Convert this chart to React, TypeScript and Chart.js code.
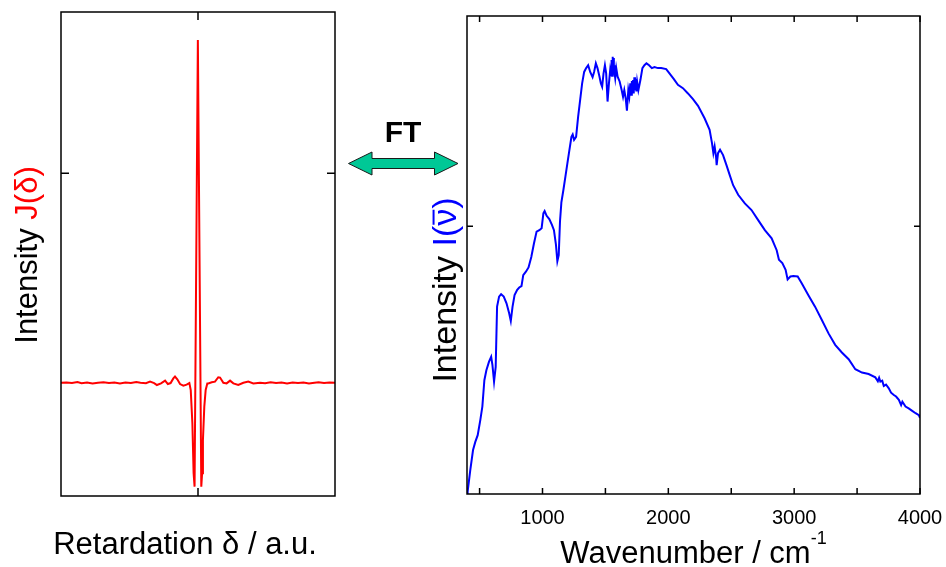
import React, { useEffect, useRef } from "react";
import { Chart, registerables } from "chart.js";

Chart.register(...registerables);

const FONT = '"Liberation Sans", Arial, Helvetica, sans-serif';

// ---------- Interferogram (left) ----------
const retardation = [
  -1.0, -0.96, -0.92, -0.88, -0.85, -0.81, -0.77, -0.73, -0.69, -0.65, -0.61, -0.57, -0.53, -0.49, -0.45,
  -0.42, -0.38, -0.35, -0.32, -0.3, -0.27, -0.24, -0.22, -0.2, -0.18, -0.168, -0.151, -0.131, -0.107, -0.083,
  -0.063, -0.053, -0.041, -0.032, -0.025, -0.001, 0.024, 0.03, 0.036, 0.046, 0.056, 0.068, 0.0755, 0.1, 0.124,
  0.148, 0.161, 0.185, 0.209, 0.234, 0.258, 0.294, 0.331, 0.367, 0.404, 0.453, 0.49, 0.53, 0.57, 0.61, 0.65,
  0.69, 0.73, 0.77, 0.81, 0.85, 0.88, 0.92, 0.96, 1.0,
];
const interferogram = [
  0.702, 0.704, 0.7, 0.706, 0.699, 0.703, 0.697, 0.702, 0.705, 0.7, 0.704, 0.698, 0.703, 0.7, 0.706,
  0.702, 0.699, 0.709, 0.7, 0.688, 0.698, 0.715, 0.694, 0.7, 0.729, 0.74, 0.723, 0.694, 0.684, 0.69,
  0.7, 0.657, 0.45, 0.141, 0.058, 2.826, 0.058, 0.141, 0.347, 0.554, 0.657, 0.698, 0.698, 0.705, 0.709,
  0.736, 0.734, 0.702, 0.698, 0.715, 0.698, 0.688, 0.702, 0.709, 0.698, 0.702, 0.699, 0.705, 0.7, 0.703,
  0.698, 0.704, 0.7, 0.703, 0.697, 0.702, 0.705, 0.7, 0.703, 0.702,
];
const leftXTicks = [0];
const leftYTicks = [2];

// ---------- Spectrum (right) ----------
const wavenumber = [
  400, 405, 426, 448, 466, 485, 506, 522, 538, 554, 575, 592, 602, 615, 628, 639, 655, 671, 692, 714,
  735, 748, 762, 778, 799, 815, 833, 847, 868, 889, 911, 932, 953, 975, 993, 1007, 1017, 1033, 1054, 1075,
  1091, 1107, 1118, 1129, 1139, 1150, 1166, 1182, 1198, 1214, 1230, 1240, 1251, 1267, 1283, 1299, 1315, 1331, 1347, 1363,
  1379, 1398, 1410, 1424, 1437, 1453, 1464, 1474, 1485, 1496, 1506, 1517, 1528, 1538, 1545, 1549, 1553, 1556, 1560, 1564,
  1567, 1570, 1574, 1578, 1586, 1597, 1613, 1629, 1640, 1650, 1661, 1671, 1682, 1690, 1698, 1704, 1710, 1714, 1720, 1725,
  1730, 1735, 1740, 1746, 1752, 1762, 1778, 1794, 1810, 1826, 1847, 1869, 1890, 1917, 1943, 1983, 2009, 2044, 2076, 2116,
  2156, 2196, 2236, 2288, 2328, 2347, 2358, 2368, 2379, 2384, 2395, 2411, 2435, 2462, 2488, 2515, 2555, 2608, 2661, 2714,
  2767, 2821, 2861, 2879, 2906, 2932, 2948, 2970, 2994, 3028, 3060, 3113, 3166, 3220, 3273, 3326, 3379, 3433, 3486, 3539,
  3592, 3645, 3665, 3675, 3685, 3700, 3712, 3730, 3752, 3770, 3792, 3810, 3832, 3850, 3860, 3885, 3910, 3938, 3965, 3991,
  4000,
];
const intensity = [
  0, 0.5, 5.0, 9.2, 10.9, 12.3, 15.5, 18.3, 23.8, 25.9, 27.7, 28.7, 27.0, 23.5, 26.6, 39.2, 41.3, 41.8, 41.3, 39.9,
  37.8, 36.2, 39.2, 41.6, 42.7, 43.2, 43.5, 45.8, 46.5, 47.4, 49.6, 52.4, 54.9, 55.2, 55.6, 58.7, 59.2, 58.2, 57.5, 56.3,
  55.2, 52.1, 48.7, 50.0, 57.0, 61.0, 63.6, 66.4, 69.2, 72.0, 74.7, 75.2, 74.1, 74.7, 78.9, 82.4, 85.9, 88.3, 89.1, 89.7,
  88.3, 87.2, 88.3, 90.1, 89.1, 87.3, 85.9, 85.2, 88.0, 89.7, 88.0, 82.1, 85.9, 88.7, 87.6, 90.8, 87.5, 91.5, 88.0, 91.2,
  88.2, 89.7, 87.8, 87.0, 89.1, 87.3, 86.3, 84.5, 83.1, 84.5, 82.8, 80.2, 84.5, 83.2, 85.9, 83.5, 86.4, 84.0, 86.6, 83.8,
  87.2, 84.5, 86.8, 84.2, 86.3, 84.5, 86.6, 89.1, 89.7, 90.1, 89.7, 89.1, 89.3, 89.1, 89.1, 88.9, 88.0, 86.8, 85.6, 84.9,
  83.8, 82.6, 81.2, 78.6, 76.2, 73.4, 71.3, 72.7, 70.6, 68.8, 71.3, 72.0, 70.9, 68.8, 66.7, 64.6, 62.6, 60.8, 59.4, 57.3,
  55.2, 53.5, 51.0, 49.0, 48.3, 46.9, 44.9, 45.5, 45.6, 45.5, 44.1, 41.6, 39.2, 36.4, 33.6, 31.2, 29.6, 28.2, 26.1, 25.4,
  25.1, 24.4, 23.6, 24.3, 23.5, 23.7, 22.6, 22.9, 22.1, 21.2, 20.7, 20.4, 19.7, 18.6, 19.3, 18.3, 17.9, 17.4, 16.9, 16.5,
  15.9,
];
const rightXTicks = [500, 1000, 1500, 2000, 2500, 3000, 3500, 4000];
const rightXLabels = ["", "1000", "", "2000", "", "3000", "", "4000"];
const rightYTicks = [56];

type Seg = { text: string; color: string; size?: number; dy?: number; overline?: boolean };

function makeFramePlugin(xTicks: number[], yTicks: number[], len: number) {
  return {
    id: "frameTicks",
    afterDatasetsDraw(chart: any) {
      const { ctx, chartArea, scales } = chart;
      const { left, right, top, bottom } = chartArea;
      ctx.save();
      ctx.strokeStyle = "#000";
      ctx.lineWidth = 1.5;
      ctx.strokeRect(left, top, right - left, bottom - top);
      ctx.beginPath();
      for (const v of xTicks) {
        const px = scales.x.getPixelForValue(v);
        ctx.moveTo(px, bottom);
        ctx.lineTo(px, bottom - len);
        ctx.moveTo(px, top);
        ctx.lineTo(px, top + len);
      }
      for (const v of yTicks) {
        const py = scales.y.getPixelForValue(v);
        ctx.moveTo(left, py);
        ctx.lineTo(left + len, py);
        ctx.moveTo(right, py);
        ctx.lineTo(right - len, py);
      }
      ctx.stroke();
      ctx.restore();
    },
  };
}

// draws a line of mixed-style text; rotated=true draws it reading bottom-to-top
function drawRich(ctx: any, segs: Seg[], baseSize: number, cxPos: number, cyPos: number, rotated: boolean) {
  ctx.save();
  const widths = segs.map((s) => {
    ctx.font = `${s.size || baseSize}px ${FONT}`;
    return ctx.measureText(s.text).width;
  });
  const total = widths.reduce((a, b) => a + b, 0);
  if (rotated) {
    ctx.translate(cxPos, cyPos + total / 2);
    ctx.rotate(-Math.PI / 2);
  } else {
    ctx.translate(cxPos - total / 2, cyPos);
  }
  ctx.textBaseline = "alphabetic";
  ctx.textAlign = "left";
  let x = 0;
  segs.forEach((s, i) => {
    const size = s.size || baseSize;
    ctx.font = `${size}px ${FONT}`;
    ctx.fillStyle = s.color;
    ctx.fillText(s.text, x, s.dy || 0);
    if (s.overline) {
      ctx.strokeStyle = s.color;
      ctx.lineWidth = 2;
      ctx.beginPath();
      ctx.moveTo(x + 1, -size * 0.66);
      ctx.lineTo(x + widths[i] - 1, -size * 0.66);
      ctx.stroke();
    }
    x += widths[i];
  });
  ctx.restore();
}

function makeTitlePlugin(ySegs: Seg[], yBase: number, yCenter: number, ySize: number, xSegs: Seg[], xCenter: number, xBase: number, xSize: number) {
  return {
    id: "richTitles",
    afterDraw(chart: any) {
      drawRich(chart.ctx, ySegs, ySize, yBase, yCenter, true);
      drawRich(chart.ctx, xSegs, xSize, xCenter, xBase, false);
    },
  };
}

const hiddenAxis = (fixed: number, horizontal: boolean) => ({
  type: "linear",
  grid: { display: false, drawTicks: false },
  border: { display: false },
  ticks: { display: false },
  afterFit: (s: any) => {
    if (horizontal) s.height = fixed;
    else s.width = fixed;
  },
});

function LeftChart() {
  const ref = useRef<HTMLCanvasElement>(null);
  useEffect(() => {
    if (!ref.current) return;
    const chart = new Chart(ref.current, {
      type: "line",
      data: {
        datasets: [
          {
            data: retardation.map((x, i) => ({ x, y: interferogram[i] })),
            borderColor: "#ff0000",
            borderWidth: 2,
            pointRadius: 0,
            tension: 0,
            fill: false,
          },
        ],
      },
      options: {
        responsive: false,
        animation: false,
        layout: { padding: { top: 12, right: 10, left: 0, bottom: 0 } },
        plugins: { legend: { display: false }, tooltip: { enabled: false } },
        scales: {
          x: { ...hiddenAxis(71, true), min: -1, max: 1 },
          y: { ...hiddenAxis(61, false), min: 0, max: 3 },
        },
      },
      plugins: [
        makeFramePlugin(leftXTicks, leftYTicks, 8),
        makeTitlePlugin(
          [
            { text: "Intensity ", color: "#000" },
            { text: "J(δ)", color: "#ff0000" },
          ],
          37,
          255,
          31,
          [{ text: "Retardation δ / a.u.", color: "#000" }],
          185,
          554,
          31
        ),
      ],
    } as any);
    return () => chart.destroy();
  }, []);
  return <canvas ref={ref} width={345} height={567} style={{ position: "absolute", left: 0, top: 0, width: 345, height: 567 }} />;
}

function RightChart() {
  const ref = useRef<HTMLCanvasElement>(null);
  useEffect(() => {
    if (!ref.current) return;
    const chart = new Chart(ref.current, {
      type: "line",
      data: {
        datasets: [
          {
            data: wavenumber.map((x, i) => ({ x, y: intensity[i] })),
            borderColor: "#0000ff",
            borderWidth: 2,
            pointRadius: 0,
            tension: 0,
            fill: false,
          },
        ],
      },
      options: {
        responsive: false,
        animation: false,
        layout: { padding: { top: 16, right: 26, left: 0, bottom: 0 } },
        plugins: { legend: { display: false }, tooltip: { enabled: false } },
        scales: {
          x: {
            type: "linear",
            min: 400,
            max: 4000,
            grid: { display: false, drawTicks: false },
            border: { display: false },
            afterBuildTicks: (s: any) => {
              s.ticks = rightXTicks.map((v) => ({ value: v }));
            },
            ticks: {
              autoSkip: false,
              maxRotation: 0,
              padding: 12,
              color: "#000",
              font: { family: FONT, size: 20 },
              callback: (_v: any, i: number) => rightXLabels[i],
            },
            afterFit: (s: any) => {
              s.height = 73;
              s.paddingLeft = 0;
              s.paddingRight = 0;
            },
          },
          y: { ...hiddenAxis(122, false), min: 0, max: 100 },
        },
      },
      plugins: [
        makeFramePlugin(rightXTicks, rightYTicks, 6),
        makeTitlePlugin(
          [
            { text: "Intensity ", color: "#000" },
            { text: "I(", color: "#0000ff" },
            { text: "ν", color: "#0000ff", overline: true },
            { text: ")", color: "#0000ff" },
          ],
          111,
          290,
          34,
          [
            { text: "Wavenumber / cm", color: "#000" },
            { text: "-1", color: "#000", size: 18, dy: -19 },
          ],
          348.5,
          563,
          31
        ),
      ],
    } as any);
    return () => chart.destroy();
  }, []);
  return <canvas ref={ref} width={601} height={567} style={{ position: "absolute", left: 345, top: 0, width: 601, height: 567 }} />;
}

export default function App() {
  return (
    <div style={{ position: "absolute", left: 0, top: 0, width: 946, height: 567, background: "#fff", overflow: "hidden", fontFamily: FONT }}>
      <LeftChart />
      <RightChart />
      <svg width={946} height={567} style={{ position: "absolute", left: 0, top: 0, pointerEvents: "none" }}>
        <polygon
          points="348.5,163.5 372,152 372,158.5 434.5,158.5 434.5,152 458,163.5 434.5,175 434.5,168.5 372,168.5 372,175"
          fill="#00c896"
          stroke="#1a1a1a"
          strokeWidth={1}
        />
      </svg>
      <div style={{ position: "absolute", left: 353, top: 117, width: 100, textAlign: "center", fontFamily: FONT, fontWeight: "bold", fontSize: 30, lineHeight: "30px", color: "#000" }}>
        FT
      </div>
    </div>
  );
}
